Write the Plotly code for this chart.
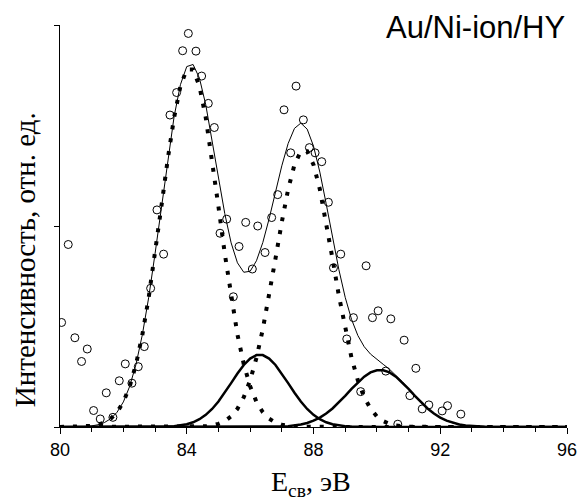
import plotly.graph_objects as go

# ---------------- data ----------------
# experimental XPS points (binding energy, eV ; intensity, a.u.)
exp_energy = [80.05, 80.26, 80.47, 80.68, 80.86, 81.06, 81.27, 81.46, 81.67, 81.87,
              82.06, 82.27, 82.47, 82.66, 82.86, 83.06, 83.27, 83.47, 83.68, 83.87,
              84.05, 84.29, 84.47, 84.68, 84.87, 85.05, 85.26, 85.47, 85.65, 85.86,
              86.07, 86.24, 86.47, 86.68, 86.87, 87.07, 87.28, 87.45, 87.68, 87.87,
              88.05, 88.26, 88.47, 88.63, 88.86, 89.05, 89.26, 89.49, 89.66, 89.86,
              90.04, 90.28, 90.44, 90.66, 90.86, 91.04, 91.23, 91.43, 91.64, 92.06,
              92.23, 92.65]
exp_intensity = [26.0, 45.4, 22.2, 16.3, 19.4, 4.1, 2.0, 8.5, 2.4, 11.5,
                 15.7, 10.9, 15.0, 20.0, 34.5, 54.0, 43.0, 77.6, 83.2, 93.6,
                 97.9, 93.5, 87.3, 80.5, 74.5, 48.2, 51.7, 32.4, 44.9, 50.9,
                 39.3, 50.0, 43.4, 52.1, 57.8, 78.9, 68.2, 84.8, 76.4, 69.5,
                 68.2, 66.0, 55.9, 39.6, 43.0, 21.9, 27.2, 8.8, 40.1, 27.2,
                 28.9, 13.9, 26.9, 0.7, 21.6, 7.8, 14.6, 4.5, 5.5, 4.0,
                 5.3, 3.2]

# sampling grid of the fitted curves: 80.0 ... 96.0 eV, step 0.2
curve_energy = [round(80 + 0.2 * i, 1) for i in range(81)]

# Au0 doublet components (dotted)
au_4f72 = [0, 0.01, 0.02, 0.05, 0.12, 0.27, 0.56, 1.10, 2.06, 3.67,
           6.24, 10.12, 15.63, 23.00, 32.26, 43.10, 54.88, 66.58, 76.96, 84.77,
           88.96, 88.96, 84.77, 76.96, 66.58, 54.88, 43.10, 32.26, 23.00, 15.63,
           10.12, 6.24, 3.67, 2.06, 1.10, 0.56, 0.27, 0.12, 0.05, 0.02,
           0.01, 0, 0, 0, 0, 0, 0, 0, 0, 0,
           0, 0, 0, 0, 0, 0, 0, 0, 0, 0,
           0, 0, 0, 0, 0, 0, 0, 0, 0, 0,
           0, 0, 0, 0, 0, 0, 0, 0, 0, 0,
           0]
au_4f52 = [0, 0, 0, 0, 0, 0, 0, 0, 0, 0,
           0, 0, 0, 0, 0, 0, 0, 0, 0, 0,
           0.01, 0.04, 0.08, 0.18, 0.38, 0.77, 1.46, 2.63, 4.54, 7.43,
           11.59, 17.21, 24.31, 32.69, 41.85, 50.99, 59.13, 65.27, 68.58, 68.58,
           65.27, 59.13, 50.99, 41.85, 32.69, 24.31, 17.21, 11.59, 7.43, 4.54,
           2.63, 1.46, 0.77, 0.38, 0.18, 0.08, 0.04, 0.01, 0, 0,
           0, 0, 0, 0, 0, 0, 0, 0, 0, 0,
           0, 0, 0, 0, 0, 0, 0, 0, 0, 0,
           0]
# second doublet components (thick solid)
ox_4f72 = [0, 0, 0, 0, 0, 0, 0, 0, 0, 0,
           0, 0, 0, 0, 0.01, 0.02, 0.05, 0.10, 0.20, 0.38,
           0.69, 1.18, 1.94, 3.02, 4.49, 6.34, 8.53, 10.92, 13.30, 15.43,
           17.03, 17.89, 17.89, 17.03, 15.43, 13.30, 10.92, 8.53, 6.34, 4.49,
           3.02, 1.94, 1.18, 0.69, 0.38, 0.20, 0.10, 0.05, 0.02, 0.01,
           0, 0, 0, 0, 0, 0, 0, 0, 0, 0,
           0, 0, 0, 0, 0, 0, 0, 0, 0, 0,
           0, 0, 0, 0, 0, 0, 0, 0, 0, 0,
           0]
ox_4f52 = [0, 0, 0, 0, 0, 0, 0, 0, 0, 0,
           0, 0, 0, 0, 0, 0, 0, 0, 0, 0,
           0, 0, 0, 0, 0, 0, 0, 0, 0, 0,
           0, 0.01, 0.02, 0.03, 0.06, 0.12, 0.21, 0.37, 0.62, 1.01,
           1.57, 2.34, 3.35, 4.61, 6.10, 7.75, 9.47, 11.11, 12.53, 13.58,
           14.13, 14.13, 13.58, 12.53, 11.11, 9.47, 7.75, 6.10, 4.61, 3.35,
           2.34, 1.57, 1.01, 0.62, 0.37, 0.21, 0.12, 0.06, 0.03, 0.02,
           0.01, 0, 0, 0, 0, 0, 0, 0, 0, 0,
           0]
# fitted envelope (thin solid)
envelope = [0, 0.01, 0.02, 0.05, 0.12, 0.27, 0.56, 1.10, 2.06, 3.67,
            6.24, 10.12, 15.63, 23.00, 32.27, 43.12, 54.93, 66.68, 77.16, 85.15,
            89.66, 90.18, 86.79, 80.16, 71.45, 61.99, 53.09, 45.81, 40.84, 38.49,
            38.74, 41.35, 45.89, 51.81, 58.44, 64.97, 70.53, 74.29, 75.59, 74.10,
            69.87, 63.41, 55.52, 47.15, 39.17, 32.26, 26.78, 22.75, 19.98, 18.13,
            16.76, 15.59, 14.35, 12.91, 11.29, 9.55, 7.79, 6.11, 4.61, 3.35,
            2.34, 1.57, 1.01, 0.62, 0.37, 0.21, 0.12, 0.06, 0.03, 0.02,
            0.01, 0, 0, 0, 0, 0, 0, 0, 0, 0,
            0]

x_ticks = [80, 84, 88, 92, 96]
y_ticks = [0, 50, 100]

chart_title = "Au/Ni-ion/HY"
x_title = "E<sub>св</sub>, эВ"
y_title = "Интенсивность, отн. ед."

# ---------------- figure ----------------
fig = go.Figure()

for comp in (au_4f72, au_4f52):
    fig.add_trace(go.Scatter(x=curve_energy, y=comp, mode="lines",
                             line=dict(color="black", width=4, dash="4px,9px"),
                             showlegend=False, hoverinfo="skip"))
for comp in (ox_4f72, ox_4f52):
    fig.add_trace(go.Scatter(x=curve_energy, y=comp, mode="lines",
                             line=dict(color="black", width=2.5),
                             showlegend=False, hoverinfo="skip"))
fig.add_trace(go.Scatter(x=curve_energy, y=envelope, mode="lines",
                         line=dict(color="black", width=1),
                         showlegend=False, hoverinfo="skip"))
fig.add_trace(go.Scatter(x=exp_energy, y=exp_intensity, mode="markers",
                         marker=dict(symbol="circle-open", size=8,
                                     color="black", line=dict(width=1)),
                         showlegend=False))

fig.update_layout(
    width=578, height=498, autosize=False,
    margin=dict(l=60, r=11, t=25, b=71),
    paper_bgcolor="white", plot_bgcolor="white",
    xaxis=dict(range=[80, 96], tickvals=x_ticks, ticks="outside", ticklen=6,
               tickwidth=1, tickcolor="black", automargin=False,
               showline=True, linecolor="black", linewidth=1,
               showgrid=False, zeroline=False,
               tickfont=dict(family="Liberation Sans, Arial", size=18, color="black"),
               minor=dict(dtick=1, ticks="outside", ticklen=4, tickcolor="black",
                          showgrid=False)),
    yaxis=dict(range=[0, 100], tickvals=y_ticks, showticklabels=False,
               ticks="outside", ticklen=5, tickwidth=1, tickcolor="black",
               automargin=False,
               showline=True, linecolor="black", linewidth=1,
               showgrid=False, zeroline=False),
    annotations=[
        dict(text=chart_title, xref="paper", yref="paper", x=1.0, y=0.995,
             xanchor="right", yanchor="middle", showarrow=False,
             font=dict(family="Liberation Sans, Arial", size=31, color="black")),
        dict(text=y_title, xref="paper", yref="paper", x=-0.069, y=0.415,
             xanchor="center", yanchor="middle", textangle=-90, showarrow=False,
             font=dict(family="Liberation Serif, Times New Roman", size=29, color="black")),
        dict(text=x_title, xref="paper", yref="paper", x=0.495, y=-0.14,
             xanchor="center", yanchor="middle", showarrow=False,
             font=dict(family="Liberation Serif, Times New Roman", size=28, color="black")),
    ],
)

fig.write_html(
    "out.html",
    config={"responsive": False, "displayModeBar": False},
    post_script="document.body.style.margin='0';document.body.style.overflow='hidden';",
)
